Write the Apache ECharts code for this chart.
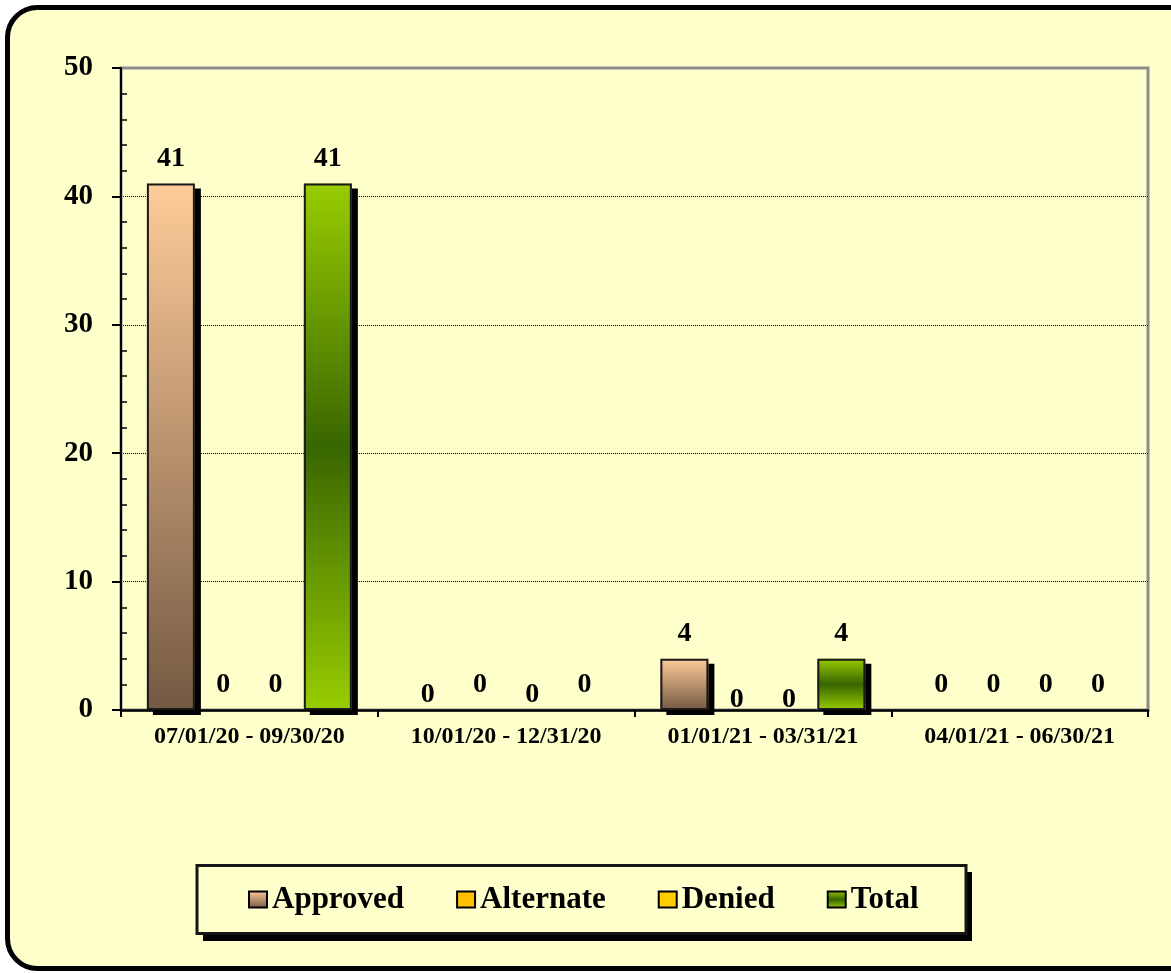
<!DOCTYPE html>
<html>
<head>
<meta charset="utf-8">
<title>Requests by Quarter</title>
<script src="https://cdn.jsdelivr.net/npm/echarts@6/dist/echarts.min.js"></script>
<style>
  html, body { margin: 0; padding: 0; background: #ffffff; }
  #chart { width: 1171px; height: 973px; }
</style>
</head>
<body>
<div id="chart"></div>
<script>
// Quarterly periods on the category axis
const categories = [
  '07/01/20 - 09/30/20',
  '10/01/20 - 12/31/20',
  '01/01/21 - 03/31/21',
  '04/01/21 - 06/30/21'
];

// Counts per quarter
const approved  = [41, 0, 4, 0];
const alternate = [0, 0, 0, 0];
const denied    = [0, 0, 0, 0];
const total     = [41, 0, 4, 0];

// Value axis range
const yMin = 0;
const yMax = 50;
const yStep = 10;

// Extra downward nudge (px) for value labels that would otherwise crowd each other
const labelDrop = {
  Approved:  [0, 10, 0, 0],
  Alternate: [0, 0, 15, 0],
  Denied:    [0, 10, 15, 0],
  Total:     [0, 0, 0, 0]
};

const FONT = '"Liberation Serif", "Times New Roman", serif';
const BAR_WIDTH = 48;
const BAR_GAP = '9%';

const approvedFill = new echarts.graphic.LinearGradient(0, 0, 0, 1, [
  { offset: 0, color: '#FFCC99' },
  { offset: 1, color: '#745943' }
]);
const totalFill = new echarts.graphic.LinearGradient(0, 0, 0, 1, [
  { offset: 0, color: '#99CC00' },
  { offset: 0.5, color: '#386600' },
  { offset: 1, color: '#99CC00' }
]);

// Filled bars with a hard drop shadow (no border, so the shadow stays outside)
function makeSeries(name, values, fill) {
  return {
    name: name,
    type: 'bar',
    xAxisIndex: 0,
    yAxisIndex: 0,
    barWidth: BAR_WIDTH,
    barGap: BAR_GAP,
    z: 2,
    data: values.map(function (v, i) {
      const item = {
        value: v,
        label: { offset: [0, labelDrop[name][i]] }
      };
      if (v === 0) {
        item.itemStyle = { shadowColor: 'rgba(0,0,0,0)' };
      }
      return item;
    }),
    itemStyle: {
      color: fill,
      borderWidth: 0,
      shadowColor: '#000000',
      shadowBlur: 0,
      shadowOffsetX: 6,
      shadowOffsetY: 5
    },
    label: {
      show: true,
      position: 'top',
      distance: 11,
      color: '#000',
      fontFamily: FONT,
      fontWeight: 'bold',
      fontSize: 28
    },
    emphasis: { disabled: true }
  };
}

// Dark outline drawn over each filled bar, laid out on a twin category axis
function makeOutline(name, values) {
  return {
    name: name + ' outline',
    type: 'bar',
    xAxisIndex: 1,
    yAxisIndex: 2,
    barWidth: BAR_WIDTH,
    barGap: BAR_GAP,
    z: 3,
    silent: true,
    data: values.map(function (v) {
      return v === 0 ? { value: v, itemStyle: { borderWidth: 0 } } : v;
    }),
    itemStyle: {
      color: 'rgba(0,0,0,0)',
      borderColor: '#1a1a1a',
      borderWidth: 2
    },
    label: { show: false },
    emphasis: { disabled: true }
  };
}

const chart = echarts.init(document.getElementById('chart'), null, { renderer: 'canvas' });

chart.setOption({
  animation: false,
  backgroundColor: '#ffffff',
  textStyle: { fontFamily: FONT },
  graphic: [
    {
      type: 'rect',
      z: -10,
      silent: true,
      shape: { x: 7.5, y: 7.5, width: 1220, height: 961, r: 30 },
      style: { fill: '#FFFFCC', stroke: '#000000', lineWidth: 5 }
    },
    {
      // legend box drop shadow
      type: 'rect',
      z: 1,
      silent: true,
      shape: { x: 203, y: 872, width: 769, height: 69 },
      style: { fill: '#000000' }
    },
    {
      // legend box
      type: 'rect',
      z: 1,
      silent: true,
      shape: { x: 197, y: 865.5, width: 769, height: 68 },
      style: { fill: '#FFFFCC', stroke: '#161616', lineWidth: 3 }
    }
  ],
  grid: {
    left: 121,
    top: 68,
    right: 23,
    bottom: 263,
    show: true,
    backgroundColor: 'transparent',
    borderColor: '#8c8c8c',
    borderWidth: 3
  },
  legend: {
    left: 248,
    top: 884,
    padding: 0,
    itemGap: 52,
    itemWidth: 18,
    itemHeight: 16,
    icon: 'rect',
    selectedMode: false,
    itemStyle: {
      borderColor: '#000000',
      borderWidth: 2,
      shadowColor: 'rgba(0,0,0,0)',
      shadowOffsetX: 0,
      shadowOffsetY: 0
    },
    textStyle: {
      color: '#000',
      fontFamily: FONT,
      fontWeight: 'bold',
      fontSize: 31
    },
    data: ['Approved', 'Alternate', 'Denied', 'Total']
  },
  xAxis: [
    {
      type: 'category',
      data: categories,
      axisLine: { show: true, lineStyle: { color: '#000', width: 2.5 } },
      axisTick: { show: true, alignWithLabel: false, length: 7, lineStyle: { color: '#000', width: 2 } },
      axisLabel: {
        color: '#000',
        fontFamily: FONT,
        fontWeight: 'bold',
        fontSize: 24,
        margin: 15,
        interval: 0
      },
      splitLine: { show: false }
    },
    {
      type: 'category',
      data: categories,
      show: false
    }
  ],
  yAxis: [
    {
      type: 'value',
      position: 'left',
      min: yMin,
      max: yMax,
      interval: yStep,
      axisLine: { show: true, lineStyle: { color: '#000', width: 2 } },
      axisTick: { show: true, inside: false, length: 9, lineStyle: { color: '#000', width: 2 } },
      axisLabel: {
        color: '#000',
        fontFamily: FONT,
        fontWeight: 'bold',
        fontSize: 29,
        margin: 28
      },
      splitLine: {
        show: true,
        showMinLine: false,
        showMaxLine: false,
        lineStyle: { color: '#000', width: 1, type: 'dotted' }
      }
    },
    {
      type: 'value',
      position: 'left',
      offset: 0,
      min: yMin,
      max: yMax,
      interval: yStep,
      axisLine: { show: false },
      axisTick: { show: false, inside: true },
      minorTick: { show: true, splitNumber: 5, length: 6, lineStyle: { color: '#000', width: 1.5 } },
      axisLabel: { show: false },
      splitLine: { show: false }
    },
    {
      type: 'value',
      min: yMin,
      max: yMax,
      interval: yStep,
      show: false
    }
  ],
  series: [
    makeSeries('Approved', approved, approvedFill),
    makeSeries('Alternate', alternate, '#FFC000'),
    makeSeries('Denied', denied, '#FFCC00'),
    makeSeries('Total', total, totalFill),
    makeOutline('Approved', approved),
    makeOutline('Alternate', alternate),
    makeOutline('Denied', denied),
    makeOutline('Total', total)
  ]
});
</script>
</body>
</html>
